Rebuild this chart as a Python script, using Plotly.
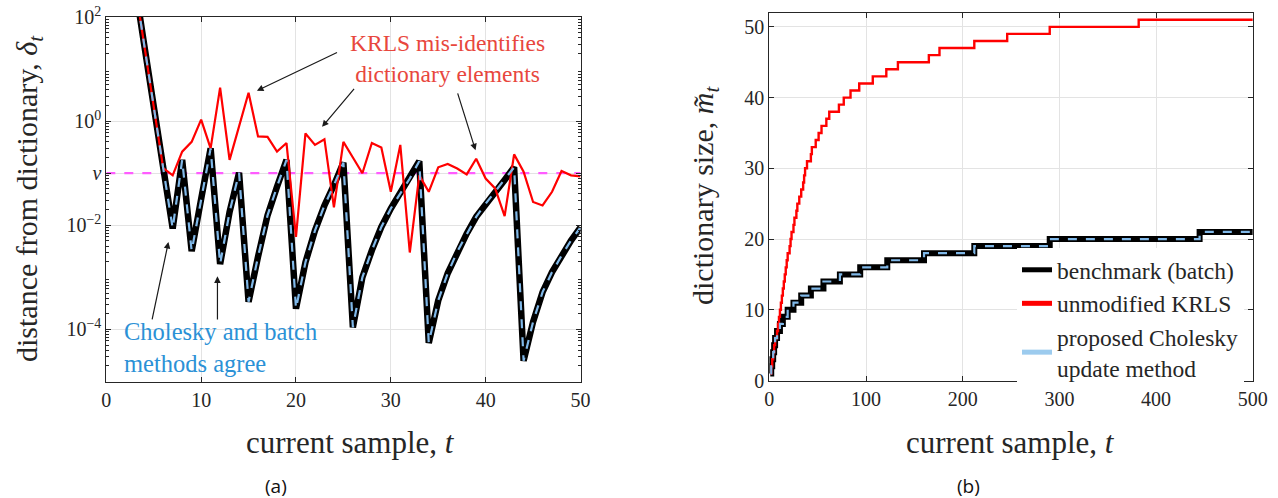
import plotly.graph_objects as go

# ---------------- data: panel (a) ----------------
t_a = list(range(1, 51))
delta_batch = [1e5, 8e3, 4.5e2, 29, 1.8, 0.125, 8.7e-3, 0.18, 3.2e-3, 3.2e-2,
               0.3, 1.8e-3, 1.8e-2, 0.102, 3.4e-4, 2.5e-3, 1.55e-2, 5.5e-2, 0.18, 2.5e-4,
               1.95e-3, 7.9e-3, 2.4e-2, 5.9e-2, 0.16, 1.1e-4, 1.0e-3, 3.3e-3, 9.3e-3, 2.1e-2,
               4.1e-2, 7.9e-2, 0.17, 5.5e-5, 3.6e-4, 1.2e-3, 3.1e-3, 6.9e-3, 1.45e-2, 2.6e-2,
               4.4e-2, 7.4e-2, 0.13, 2.5e-5, 1.4e-4, 5.2e-4, 1.26e-3, 2.6e-3, 5.1e-3, 9.1e-3]
delta_chol = list(delta_batch)
delta_krls = [1e5, 8e3, 4.5e2, 29, 1.8, 0.125, 0.091, 0.26, 0.4, 1.07,
              0.3, 4.4, 0.18, 0.78, 3.5, 0.51, 0.5, 0.26, 0.38, 0.006,
              0.58, 0.35, 0.45, 0.022, 0.4, 0.2, 0.1, 0.38, 0.31, 0.044,
              0.35, 0.003, 0.091, 0.044, 0.13, 0.15, 0.123, 0.095, 0.19, 0.079,
              0.051, 0.015, 0.23, 0.107, 0.028, 0.024, 0.044, 0.11, 0.091, 0.087]
nu = 0.1
ytick_vals_a = [1e2, 1, nu, 1e-2, 1e-4]
ytick_text_a = ["10<sup>2</sup>", "10<sup>0</sup>", "<i>ν</i>", "10<sup>−2</sup>", "10<sup>−4</sup>"]
xtick_vals_a = [0, 10, 20, 30, 40, 50]

# ---------------- data: panel (b) ----------------
bench_t = [1, 2, 3, 4, 5, 6, 8, 11, 14, 19, 25, 33, 43, 56, 73, 94, 122, 160, 212, 290, 445, 500]
bench_m = [1, 2, 3, 4, 5, 6, 7, 8, 9, 10, 11, 12, 13, 14, 15, 16, 17, 18, 19, 20, 21, 21]
krls_t = [1, 2, 3, 4, 5, 6, 8, 9, 10, 11, 12, 13, 14, 15, 16, 17, 18, 19, 21, 22,
          23, 25, 26, 28, 29, 31, 33, 35, 36, 37, 39, 43, 44, 48, 51, 54, 59, 62, 72, 77,
          84, 93, 107, 121, 133, 165, 176, 212, 246, 290, 382, 500]
krls_m = [1, 2, 3, 4, 5, 6, 7, 8, 9, 10, 11, 12, 13, 14, 15, 16, 17, 18, 19, 20,
          21, 22, 23, 24, 25, 26, 27, 28, 29, 30, 31, 32, 33, 34, 35, 36, 37, 38, 39, 40,
          41, 42, 43, 44, 45, 46, 47, 48, 49, 50, 51, 51]
chol_t = list(bench_t)
chol_m = list(bench_m)
xtick_vals_b = [0, 100, 200, 300, 400, 500]
ytick_vals_b = [0, 10, 20, 30, 40, 50]

# ---------------- styles ----------------
SERIF = "Liberation Serif"
AX = "#262626"
GRID = "#e3e3e3"
BLACK = "#000000"
RED = "#ff0000"
LBLUE = "#80b8e8"
LBLUE_LEG = "#9ccbee"
MAGENTA = "#ff5cff"
W, H = 1278, 498


def xp(px):  # screen pixel -> paper fraction
    return px / W


def yp(py):
    return 1 - py / H


fig = go.Figure()

# panel (a)
fig.add_trace(go.Scatter(x=[0, 50], y=[nu, nu], mode="lines", xaxis="x", yaxis="y",
                         line=dict(color=MAGENTA, width=2.2, dash="dash"), showlegend=False))
fig.add_trace(go.Scatter(x=t_a, y=delta_batch, mode="lines", xaxis="x", yaxis="y",
                         line=dict(color=BLACK, width=6.5), showlegend=False))
fig.add_trace(go.Scatter(x=t_a, y=delta_krls, mode="lines", xaxis="x", yaxis="y",
                         line=dict(color=RED, width=2.2), showlegend=False))
fig.add_trace(go.Scatter(x=t_a, y=delta_chol, mode="lines", xaxis="x", yaxis="y",
                         line=dict(color=LBLUE, width=2.2, dash="dash"), showlegend=False))

# panel (b)
fig.add_trace(go.Scatter(x=bench_t, y=bench_m, mode="lines", xaxis="x2", yaxis="y2",
                         line=dict(color=BLACK, width=6, shape="hv"), showlegend=False))
fig.add_trace(go.Scatter(x=krls_t, y=krls_m, mode="lines", xaxis="x2", yaxis="y2",
                         line=dict(color=RED, width=2.4, shape="hv"), showlegend=False))
fig.add_trace(go.Scatter(x=chol_t, y=chol_m, mode="lines", xaxis="x2", yaxis="y2",
                         line=dict(color=LBLUE, width=2.2, dash="dash", shape="hv"), showlegend=False))

# legend entries
for name, col, grp in [("benchmark (batch)", BLACK, "a"),
                       ("unmodified KRLS", RED, "b"),
                       ("proposed Cholesky<br>update method", LBLUE_LEG, "c")]:
    fig.add_trace(go.Scatter(x=[None], y=[None], mode="lines", xaxis="x2", yaxis="y2",
                             name=name, legendgroup=grp,
                             line=dict(color=col, width=5), showlegend=True))

minor_log = [k * 10.0 ** e for e in range(-5, 2) for k in range(2, 10)]

common = dict(showline=True, linecolor=AX, linewidth=1, mirror="allticks",
              ticks="inside", ticklen=5, tickcolor=AX, showgrid=True, gridcolor=GRID,
              zeroline=False, automargin=False, ticklabeloverflow="allow",
              tickfont=dict(family=SERIF, size=20, color=AX))

fig.update_layout(
    width=W, height=H,
    margin=dict(l=0, r=0, t=0, b=0, autoexpand=False),
    paper_bgcolor="white", plot_bgcolor="white",
    font=dict(family=SERIF, color=AX),
    xaxis=dict(domain=[xp(106.3), xp(580.5)], range=[0, 50], anchor="y",
               tickmode="array", tickvals=xtick_vals_a, **common),
    yaxis=dict(domain=[yp(381.5), yp(17)], type="log", range=[-5, 2], anchor="x",
               tickmode="array", tickvals=ytick_vals_a, ticktext=ytick_text_a,
               minor=dict(tickmode="array", tickvals=minor_log, ticks="inside",
                          ticklen=3, tickcolor=AX, showgrid=False),
               **common),
    xaxis2=dict(domain=[xp(769.3), xp(1252.8)], range=[0, 500], anchor="y2",
                tickmode="array", tickvals=xtick_vals_b, **common),
    yaxis2=dict(domain=[yp(380.5), yp(12.7)], range=[0, 52], anchor="x2",
                tickmode="array", tickvals=ytick_vals_b, **common),
    showlegend=True,
    legend=dict(x=xp(1017), y=yp(248), xanchor="left", yanchor="top",
                bgcolor="white", borderwidth=0, traceorder="grouped", tracegroupgap=0,
                font=dict(family=SERIF, size=23.5, color=AX)),
)

ann = []
title_font = dict(family=SERIF, size=31, color=AX)
ytitle_font = dict(family=SERIF, size=30, color=AX)
ann.append(dict(text="current sample, <i>t</i>", x=xp(350), y=yp(442), xref="paper", yref="paper",
                showarrow=False, font=title_font, xanchor="center", yanchor="middle"))
ann.append(dict(text="current sample, <i>t</i>", x=xp(1010), y=yp(442), xref="paper", yref="paper",
                showarrow=False, font=title_font, xanchor="center", yanchor="middle"))
ann.append(dict(text="distance from dictionary, <i>δ<sub>t</sub></i>", x=xp(29), y=yp(199),
                xref="paper", yref="paper", showarrow=False, font=ytitle_font, textangle=-90,
                xanchor="center", yanchor="middle"))
ann.append(dict(text="dictionary size, <i>m̃<sub>t</sub></i>", x=xp(705), y=yp(196),
                xref="paper", yref="paper", showarrow=False, font=ytitle_font, textangle=-90,
                xanchor="center", yanchor="middle"))
ann.append(dict(text="(a)", x=xp(276), y=yp(486), xref="paper", yref="paper", showarrow=False,
                font=dict(family="Open Sans", size=19, color="#111111"), xanchor="center", yanchor="middle"))
ann.append(dict(text="(b)", x=xp(968), y=yp(486), xref="paper", yref="paper", showarrow=False,
                font=dict(family="Open Sans", size=19, color="#111111"), xanchor="center", yanchor="middle"))
ann.append(dict(text="KRLS mis-identifies<br>dictionary elements", x=xp(447), y=yp(58),
                xref="paper", yref="paper", showarrow=False, align="center",
                font=dict(family=SERIF, size=23.5, color="#e8473d"), xanchor="center", yanchor="middle"))
ann.append(dict(text="Cholesky and batch<br>methods agree", x=xp(122), y=yp(347),
                xref="paper", yref="paper", showarrow=False, align="left",
                font=dict(family=SERIF, size=24.5, color="#2b91d6"), xanchor="left", yanchor="middle"))

# arrows (head at data position, tail offset in pixels)
arrows = [(15.88, 0.583, 81.6, -39.0), (22.75, -0.11, 33.3, -39.4), (38.93, -0.558, -18.3, -58.3),
          (6.55, -2.32, -16.6, 79.0), (11.72, -2.98, 0.0, 44.7)]
for (xa, ya, dx, dy) in arrows:
    ann.append(dict(x=xa, y=ya, xref="x", yref="y", ax=dx, ay=dy, text="", showarrow=True,
                    arrowhead=2, arrowsize=1.1, arrowwidth=1.2, arrowcolor="#1a1a1a", standoff=0))
fig.update_layout(annotations=ann)

fig.write_html("out.html", config={"displayModeBar": False},
               post_script="document.body.style.margin='0';document.body.style.overflow='hidden';")
